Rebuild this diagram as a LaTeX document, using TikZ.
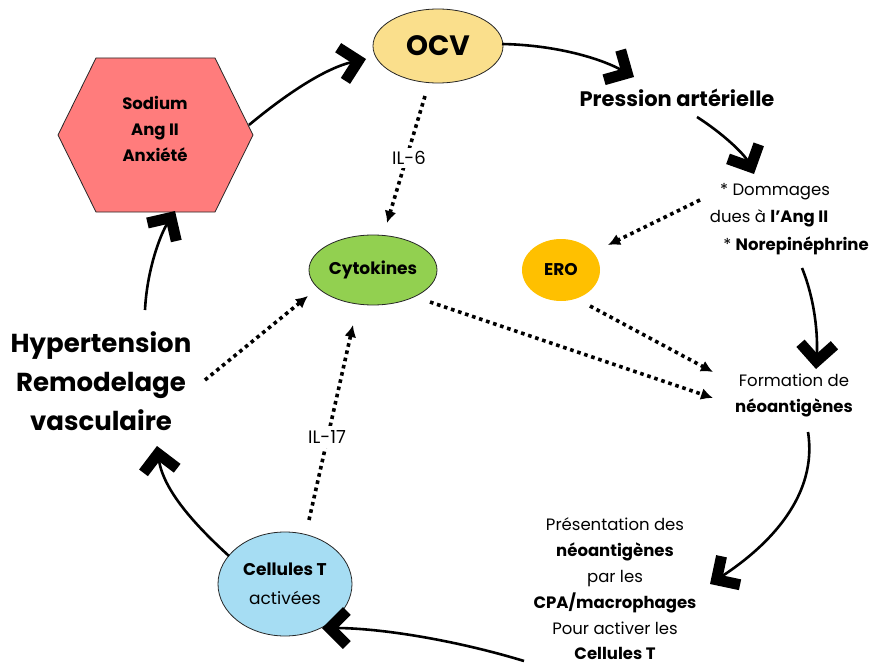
\documentclass[tikz,border=0pt]{standalone}
\usepackage{fontspec}
\setmainfont{Poppins}
\usetikzlibrary{arrows.meta,shapes.geometric}
\definecolor{ocvc}{HTML}{FADF8C}
\definecolor{hexc}{HTML}{FF7C7C}
\definecolor{eroc}{HTML}{FFC000}
\definecolor{cytc}{HTML}{92D050}
\definecolor{celc}{HTML}{A6DDF3}
\tikzset{
  bubble/.style={ellipse, draw=black!85, line width=0.8pt, inner sep=0pt},
  cyc/.style={line width=2.6pt, -{Straight Barb[length=17pt,width=34pt,line width=11pt,sharp]}},
  dots/.style={line width=3.6pt, dash pattern=on 3.6pt off 3.8pt, -{Latex[length=12pt,width=12pt]}},
  lbl/.style={align=center, font=\fontsize{16.5}{26}\selectfont, inner sep=0pt},
}
\begin{document}
\begin{tikzpicture}[x=1pt,y=-1pt]
\useasboundingbox (0,0) rectangle (875,666);
% hexagon
\filldraw[fill=hexc, draw=black!85, line width=0.8pt]
  (96,58) -- (215,58) -- (253,135) -- (215,212) -- (96,212) -- (58,135) -- cycle;
\node[align=center, inner sep=0pt, font=\fontsize{16.5}{26}\selectfont\bfseries] (hex) at (155,129) {Sodium\\Ang II\\Anxiété};
% bubbles
\node[bubble, fill=ocvc, minimum width=130pt, minimum height=74pt, font=\fontsize{28}{28}\selectfont\bfseries] (ocv) at (438,46) {OCV};
\node[ellipse, fill=eroc, minimum width=78pt, minimum height=62pt, inner sep=0pt, font=\fontsize{17}{17}\selectfont\bfseries] (ero) at (561,270) {ERO};
\node[bubble, fill=cytc, minimum width=128pt, minimum height=70pt, font=\fontsize{17}{17}\selectfont\bfseries] (cyt) at (373,270) {Cytokines};
\node[bubble, fill=celc, minimum width=134pt, minimum height=104pt, align=center, font=\fontsize{17}{29}\selectfont] (cel) at (285,584) {\textbf{Cellules T}\\activées};
% texts
\node[inner sep=0pt, font=\fontsize{21}{21}\selectfont\bfseries] (pa) at (677,98) {Pression artérielle};
\node[lbl] (dom1) at (775,192) {* Dommages};
\node[lbl] (dom2) at (769,218) {dues à \textbf{l’Ang II}};
\node[lbl] (dom3) at (796,246) {* \textbf{Norepinéphrine}};
\node[lbl] (neo) at (794,395) {Formation de\\\textbf{néoantigènes}};
\node[lbl, font=\fontsize{16.5}{25.8}\selectfont] (pres) at (615,589) {Présentation des\\\textbf{néoantigènes}\\par les\\\textbf{CPA/macrophages}\\Pour activer les\\\textbf{Cellules T}};
\node[align=center, inner sep=0pt, font=\fontsize{26}{39}\selectfont\bfseries] (hyp) at (101,381) {Hypertension\\Remodelage\\vasculaire};
% named coordinates
\coordinate (a1) at (249,125);
\coordinate (a2) at (366,59);
\coordinate (b1) at (502,44);
\coordinate (b2) at (634,77);
\coordinate (c1) at (697,117);
\coordinate (c2) at (754,174);
\coordinate (d1) at (802,268);
\coordinate (d2) at (816,369);
\coordinate (e1) at (808,432);
\coordinate (e2) at (710,584);
\coordinate (f1) at (524,661);
\coordinate (f2) at (322,628);
\coordinate (g1) at (229,556);
\coordinate (g2) at (157,446);
\coordinate (h1) at (145,310);
\coordinate (h2) at (175,211);
% cycle arrows
\draw[cyc] (a1) .. controls (285,95) and (325,68) .. (a2);
\draw[cyc] (b1) .. controls (555,45) and (600,58) .. (b2);
\draw[cyc] (c1) .. controls (725,135) and (745,155) .. (c2);
\draw[cyc] (d1) .. controls (815,300) and (818,335) .. (d2);
\draw[cyc] (e1) .. controls (818,495) and (770,545) .. (e2);
\draw[cyc] (f1) .. controls (455,640) and (380,628) .. (f2);
\draw[cyc] (g1) .. controls (195,525) and (163,490) .. (g2);
\draw[cyc] (h1) .. controls (147,270) and (160,235) .. (h2);
% dotted arrows
\coordinate (i1) at (425,96);
\coordinate (i2) at (387,223);
\draw[dots] (i1) -- (i2);
\node[fill=white, inner sep=3pt, font=\fontsize{18}{18}\selectfont] (il6) at (409,158) {IL-6};
\coordinate (j1) at (700,200);
\coordinate (j2) at (608,245);
\draw[dots] (j1) -- (j2);
\coordinate (k1) at (590,306);
\coordinate (k2) at (713,372);
\draw[dots] (k1) -- (k2);
\coordinate (l1) at (430,302);
\coordinate (l2) at (713,398);
\draw[dots] (l1) -- (l2);
\coordinate (m1) at (205,380);
\coordinate (m2) at (308,296);
\draw[dots] (m1) -- (m2);
\coordinate (n1) at (309,520);
\coordinate (n2) at (353,325);
\draw[dots] (n1) -- (n2);
\node[fill=white, inner sep=4pt, font=\fontsize{18}{18}\selectfont] (il17) at (327,437) {IL-17};
\end{tikzpicture}
\end{document}
